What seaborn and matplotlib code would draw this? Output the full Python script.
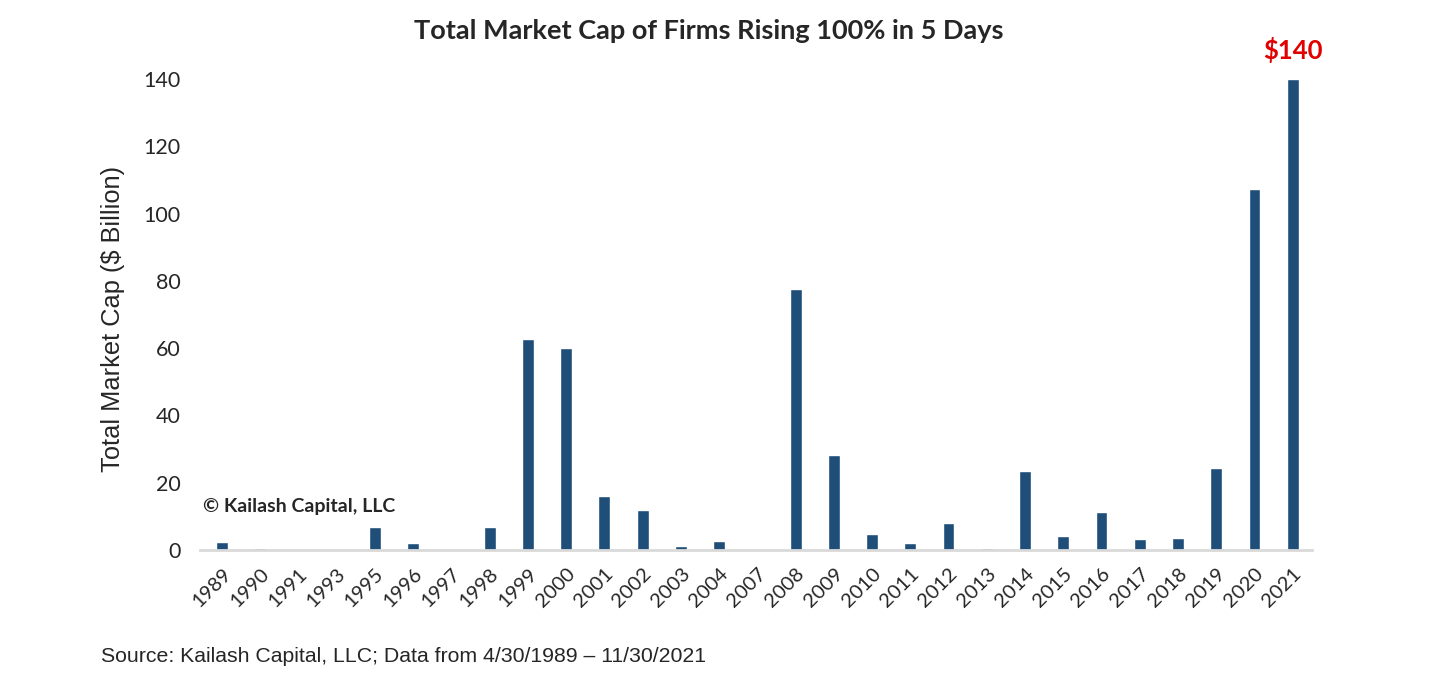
import seaborn as sns
import matplotlib.pyplot as plt
import pandas as pd

years = ['1989', '1990', '1991', '1993', '1995', '1996', '1997', '1998', '1999', '2000',
         '2001', '2002', '2003', '2004', '2007', '2008', '2009', '2010', '2011', '2012',
         '2013', '2014', '2015', '2016', '2017', '2018', '2019', '2020', '2021']
market_cap = [2.4, 0.7, 0, 0, 6.9, 2.1, 0, 6.9, 62.8, 59.9,
              16.1, 11.9, 1.2, 2.7, 0, 77.6, 28.3, 4.8, 2.1, 8.0,
              0.6, 23.5, 4.2, 11.3, 3.3, 3.6, 24.4, 107.2, 140]
y_ticks = [0, 20, 40, 60, 80, 100, 120, 140]

bar_color = '#1F4E79'

sns.set_style('white')
plt.rcParams['font.family'] = ['Lato', 'DejaVu Sans']

df = pd.DataFrame({'year': years, 'cap': market_cap})

fig = plt.figure(figsize=(14.4, 6.84), dpi=100)
ax = fig.add_axes([0.139, 0.196, 0.772, 0.6885])

sns.barplot(x='year', y='cap', data=df, color=bar_color, width=0.31, saturation=1, ax=ax)

ax.set_ylim(0, 140)
ax.set_xlim(-0.57, 28.5)
ax.set_yticks(y_ticks)
ax.tick_params(axis='y', labelsize=15.5, length=0, pad=14)
ax.tick_params(axis='x', labelsize=14.5, length=0, pad=11)
plt.setp(ax.get_xticklabels(), rotation=45, ha='right', rotation_mode='anchor')

for side in ['left', 'right', 'top']:
    ax.spines[side].set_visible(False)
ax.spines['bottom'].set_color('#D9D9D9')
ax.spines['bottom'].set_linewidth(2)

ax.set_xlabel('')
ax.set_ylabel('Total Market Cap ($ Billion)', fontsize=18.3, family=['Liberation Sans'])
ax.yaxis.set_label_coords(-0.068, 0.49)

fig.text(0.492, 0.955, 'Total Market Cap of Firms Rising 100% in 5 Days',
         ha='center', va='center', fontsize=19.5, fontweight='bold')

# red callout above the last bar
ax.annotate('$140', xy=(len(years) - 1, market_cap[-1]), xytext=(0, 21),
            textcoords='offset points', ha='center', va='center',
            fontsize=18.5, fontweight='bold', color='#E00000')

ax.text(0.003, 13, '\u00a9 Kailash Capital, LLC', transform=ax.get_yaxis_transform(),
        ha='left', va='center', fontsize=14, fontweight='bold')

fig.text(0.07, 0.04, 'Source: Kailash Capital, LLC; Data from 4/30/1989 \u2013 11/30/2021',
         ha='left', va='center', fontsize=15.3, family=['Liberation Sans'])

fig.savefig('out.png', dpi=100)
